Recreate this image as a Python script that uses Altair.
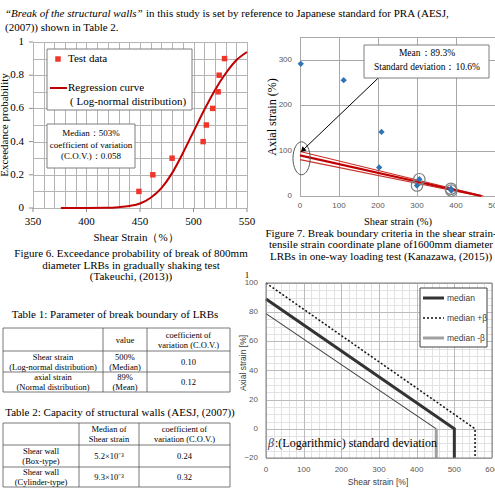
import altair as alt
import pandas as pd

W, H = 495, 492
SERIF = "Liberation Serif"
SANS = "Liberation Sans"

# ---------------- text content ----------------
intro_italic = "\u201cBreak of the structural walls\u201d"
intro_rest = "in this study is set by reference to Japanese standard for PRA (AESJ,"
intro_line2 = "(2007)) shown in Table 2."

fig6_caption = ["Figure 6. Exceedance probability of break of 800mm",
                "diameter LRBs in gradually shaking test",
                "(Takeuchi, (2013))"]
fig7_caption = ["Figure 7. Break boundary criteria in the shear strain-",
                "tensile strain coordinate plane of1600mm diameter",
                "LRBs in one-way loading test (Kanazawa, (2015))"]

table1_title = "Table 1: Parameter of break boundary of LRBs"
table1_cells = [["", "value", "coefficient of\nvariation (C.O.V.)"],
                ["Shear strain\n(Log-normal distribution)", "500%\n(Median)", "0.10"],
                ["axial strain\n(Normal distribution)", "89%\n(Mean)", "0.12"]]
table2_title = "Table 2: Capacity of structural walls (AESJ, (2007))"
table2_cells = [["", "Median of\nShear strain", "coefficient of\nvariation (C.O.V.)"],
                ["Shear wall\n(Box-type)", "5.2\u00d710\u207b\u00b3", "0.24"],
                ["Shear wall\n(Cylinder-type)", "9.3\u00d710\u207b\u00b3", "0.32"]]

# ---------------- Figure 6 data ----------------
fig6_test_shear = [449, 462, 480, 509, 512, 518, 523, 524, 529]
fig6_test_prob = [0.1, 0.2, 0.3, 0.4, 0.5, 0.6, 0.7, 0.8, 0.9]
fig6_curve_shear = [376, 400, 420, 430, 440, 450, 460, 470, 480, 490, 500, 510, 520, 530, 540, 550]
fig6_curve_prob = [0.0, 0.0, 0.001, 0.005, 0.012, 0.027, 0.062, 0.12, 0.21, 0.33, 0.46, 0.59,
                   0.71, 0.81, 0.89, 0.94]
fig6_x_domain = [350, 550]
fig6_y_domain = [0, 1]
fig6_x_ticks = [350, 400, 450, 500, 550]
fig6_y_ticks = [0, 0.2, 0.4, 0.6, 0.8, 1.0]
fig6_grid_x = list(range(350, 551, 10))
fig6_grid_y = [i / 10 for i in range(11)]

# ---------------- Figure 7 data ----------------
fig7_shear = [2, 112, 209, 203, 306, 300, 387, 388]
fig7_axial = [291, 255, 141, 63, 37, 23, 16, 12]
fig7_circled = [0, 0, 0, 0, 1, 1, 1, 1]
fig7_line_id = ["upper", "upper", "mean", "mean", "lower", "lower"]
fig7_line_shear = [0, 470, 0, 465, 0, 460]
fig7_line_axial = [98, 0, 89.3, 0, 80, 0]
fig7_x_domain = [0, 500]
fig7_y_domain = [0, 350]
fig7_x_ticks = [0, 100, 200, 300, 400, 500]
fig7_y_ticks = [0, 100, 200, 300]
fig7_grid_y = [0, 100, 200, 300, 350]
fig7_ellipse = [4, 83]
fig7_arrow = [201, 260, 8.5, 102]

# ---------------- Figure 8 data ----------------
fig8_line_id = ["median"] * 3 + ["plus"] * 3 + ["minus"] * 2 + ["minus_v"] * 2
fig8_shear = [0, 500, 500, 0, 555, 555, 0, 452, 452, 452]
fig8_axial = [89, 0, -20, 100, 0, -20, 79, 0, 0, -20]
fig8_x_domain = [0, 600]
fig8_y_domain = [-20, 100]
fig8_x_ticks = [0, 100, 200, 300, 400, 500, 600]
fig8_y_ticks = [-20, 0, 20, 40, 60, 80, 100]
fig8_minor_x = list(range(0, 601, 20))
fig8_minor_y = list(range(-20, 101, 5))
fig8_legend = ["median", "median +\u03b2", "median -\u03b2"]

# ---------------- panel geometry (pixel ranges) ----------------
P6_X, P6_Y = [33, 247], [208, 42]
P7_X, P7_Y = [300, 495], [196, 37]
P8_X, P8_Y = [266, 492], [458, 283]

ONE = pd.DataFrame({"k": [0]})


# ---------------- helpers ----------------
def text_layer(lines, xs, ys, size, font=SERIF, color="black", align="center",
               style="normal", angle=0):
    df = pd.DataFrame({"t": lines, "px": xs, "py": ys, "i": list(range(len(lines)))})
    return alt.Chart(df).mark_text(font=font, fontSize=size, color=color, align=align,
                                   baseline="middle", fontStyle=style, fontWeight="normal",
                                   angle=angle).encode(
        text="t:N",
        detail="i:N",
        x=alt.X("px:Q", scale=None, axis=None),
        y=alt.Y("py:Q", scale=None, axis=None))


def box(x0, x1, y0, y1, stroke="#7f7f7f", width=1):
    return alt.Chart(ONE).mark_rect(fill="white", stroke=stroke, strokeWidth=width).encode(
        x=alt.value(x0), x2=alt.value(x1), y=alt.value(y0), y2=alt.value(y1))


def segs(x0s, x1s, y0s, y1s, color, width=1, dash=None):
    df = pd.DataFrame({"a": x0s, "b": x1s, "c": y0s, "d": y1s})
    kw = dict(color=color, strokeWidth=width)
    if dash:
        kw["strokeDash"] = dash
    return alt.Chart(df).mark_rule(**kw).encode(
        x=alt.X("a:Q", scale=None, axis=None), x2="b:Q",
        y=alt.Y("c:Q", scale=None, axis=None), y2="d:Q")


def table_layers(cells, cols, rows, size, spacing):
    lines, xs, ys = [], [], []
    for r, row in enumerate(cells):
        cy = (rows[r] + rows[r + 1]) / 2
        for c, cell in enumerate(row):
            if not cell:
                continue
            cx = (cols[c] + cols[c + 1]) / 2
            parts = cell.split("\n")
            for k, p in enumerate(parts):
                lines.append(p)
                xs.append(cx)
                ys.append(cy + (k - (len(parts) - 1) / 2) * spacing)
    hx0 = [cols[0]] * len(rows)
    hx1 = [cols[-1]] * len(rows)
    vy0 = [rows[0]] * len(cols)
    vy1 = [rows[-1]] * len(cols)
    grid = segs(hx0 + cols, hx1 + cols, rows + vy0, rows + vy1, "#555555", 0.8)
    return [grid, text_layer(lines, xs, ys, size)]


def lin(v, dom, rng):
    return rng[0] + (v - dom[0]) * (rng[1] - rng[0]) / (dom[1] - dom[0])


def panel_grid(xvals, yvals, xdom, ydom, xr, yr, color, width=1):
    """Grid lines of a panel, mapped linearly from the panel's domain to its pixel range."""
    x0s, x1s, y0s, y1s = [], [], [], []
    for v in xvals:
        p = round(lin(v, xdom, xr)) + 0.5
        x0s.append(p); x1s.append(p); y0s.append(yr[0]); y1s.append(yr[1])
    for v in yvals:
        p = round(lin(v, ydom, yr)) + 0.5
        x0s.append(xr[0]); x1s.append(xr[1]); y0s.append(p); y1s.append(p)
    return segs(x0s, x1s, y0s, y1s, color, width)


def tick_labels(vals, channel, xs, ys, base, font, size, color, offset, fmt="~g"):
    """Axis tick labels placed through the panel scales."""
    df = pd.DataFrame({"v": vals, "b": base})
    if channel == "x":
        return alt.Chart(df).mark_text(font=font, fontSize=size, color=color, align="center",
                                       baseline="middle", dy=offset).encode(
            x=alt.X("v:Q", scale=xs, axis=None), y=alt.Y("b:Q", scale=ys, axis=None),
            text=alt.Text("v:Q", format=fmt))
    return alt.Chart(df).mark_text(font=font, fontSize=size, color=color, align="right",
                                   baseline="middle", dx=-offset).encode(
        y=alt.Y("v:Q", scale=ys, axis=None), x=alt.X("b:Q", scale=xs, axis=None),
        text=alt.Text("v:Q", format=fmt))


def tick_marks(vals, channel, xs, ys, base, color):
    df = pd.DataFrame({"v": vals, "b": base})
    path = "M0,0L0,1" if channel == "x" else "M0,0L-1,0"
    mk = alt.Chart(df).mark_point(shape=path, size=64, filled=False, color=color,
                                  strokeWidth=1, opacity=1)
    if channel == "x":
        return mk.encode(x=alt.X("v:Q", scale=xs, axis=None), y=alt.Y("b:Q", scale=ys, axis=None))
    return mk.encode(y=alt.Y("v:Q", scale=ys, axis=None), x=alt.X("b:Q", scale=xs, axis=None))


# ---------------- Figure 6 ----------------
xs6 = alt.Scale(domain=fig6_x_domain, range=P6_X, nice=False, zero=False)
ys6 = alt.Scale(domain=fig6_y_domain, range=P6_Y, nice=False, zero=False)

curve6 = alt.Chart(pd.DataFrame({"s": fig6_curve_shear, "p": fig6_curve_prob})).mark_line(
    color="#c00000", strokeWidth=2, interpolate="monotone").encode(
    x=alt.X("s:Q", scale=xs6, axis=None), y=alt.Y("p:Q", scale=ys6, axis=None))
pts6 = alt.Chart(pd.DataFrame({"s": fig6_test_shear, "p": fig6_test_prob})).mark_point(
    shape="square", filled=True, size=30, color="#f0362b", opacity=1).encode(
    x=alt.X("s:Q", scale=xs6, axis=None), y=alt.Y("p:Q", scale=ys6, axis=None))
fig6 = alt.layer(
    tick_marks(fig6_x_ticks, "x", xs6, ys6, fig6_y_domain[0], "#8c8c8c"),
    tick_marks(fig6_y_ticks, "y", xs6, ys6, fig6_x_domain[0], "#8c8c8c"),
    tick_labels(fig6_x_ticks, "x", xs6, ys6, fig6_y_domain[0], SERIF, 11, "black", 14),
    tick_labels(fig6_y_ticks, "y", xs6, ys6, fig6_x_domain[0], SERIF, 11, "black", 9),
    curve6, pts6)

# ---------------- Figure 7 ----------------
xs7 = alt.Scale(domain=fig7_x_domain, range=P7_X, nice=False, zero=False)
ys7 = alt.Scale(domain=fig7_y_domain, range=P7_Y, nice=False, zero=False)

df7l = pd.DataFrame({"id": fig7_line_id, "s": fig7_line_shear, "a": fig7_line_axial})
lines7o = alt.Chart(df7l).transform_filter("datum.id != 'mean'").mark_line(
    color="#c8322a", strokeWidth=1.2).encode(
    x=alt.X("s:Q", scale=xs7, axis=None), y=alt.Y("a:Q", scale=ys7, axis=None), detail="id:N")
lines7m = alt.Chart(df7l).transform_filter("datum.id == 'mean'").mark_line(
    color="#c00000", strokeWidth=2.2).encode(
    x=alt.X("s:Q", scale=xs7, axis=None), y=alt.Y("a:Q", scale=ys7, axis=None))
df7p = pd.DataFrame({"s": fig7_shear, "a": fig7_axial, "c": fig7_circled})
pts7 = alt.Chart(df7p).mark_point(shape="diamond", filled=True, size=40, color="#2e75b6",
                                  opacity=1).encode(
    x=alt.X("s:Q", scale=xs7, axis=None), y=alt.Y("a:Q", scale=ys7, axis=None))
circ7 = alt.Chart(df7p).transform_filter("datum.c == 1").mark_point(
    shape="circle", filled=False, size=130, color="#7f7f7f", strokeWidth=1.2, opacity=1).encode(
    x=alt.X("s:Q", scale=xs7, axis=None), y=alt.Y("a:Q", scale=ys7, axis=None))
ELLIPSE = ("M0,-1C0.287,-1,0.52,-0.552,0.52,0C0.52,0.552,0.287,1,0,1"
           "C-0.287,1,-0.52,0.552,-0.52,0C-0.52,-0.552,-0.287,-1,0,-1Z")
ell7 = alt.Chart(pd.DataFrame({"s": [fig7_ellipse[0]], "a": [fig7_ellipse[1]]})).mark_point(
    shape=ELLIPSE, filled=False, size=1089, color="#595959", strokeWidth=1, opacity=1).encode(
    x=alt.X("s:Q", scale=xs7, axis=None), y=alt.Y("a:Q", scale=ys7, axis=None))
dfa = pd.DataFrame({"x": [fig7_arrow[0]], "y": [fig7_arrow[1]],
                    "x2": [fig7_arrow[2]], "y2": [fig7_arrow[3]]})
arrow7 = alt.Chart(dfa).mark_rule(color="black", strokeWidth=1).encode(
    x=alt.X("x:Q", scale=xs7, axis=None), y=alt.Y("y:Q", scale=ys7, axis=None),
    x2="x2:Q", y2="y2:Q")
head7 = alt.Chart(dfa).mark_point(shape="triangle", filled=True, size=35, color="black",
                                  angle=226, opacity=1).encode(
    x=alt.X("x2:Q", scale=xs7, axis=None), y=alt.Y("y2:Q", scale=ys7, axis=None))
fig7 = alt.layer(
    tick_labels(fig7_x_ticks, "x", xs7, ys7, fig7_y_domain[0], SANS, 8, "#595959", 10),
    tick_labels(fig7_y_ticks, "y", xs7, ys7, fig7_x_domain[0], SANS, 8, "#595959", 8),
    lines7o, lines7m, circ7, pts7, ell7, arrow7, head7)

# ---------------- Figure 8 ----------------
xs8 = alt.Scale(domain=fig8_x_domain, range=P8_X, nice=False, zero=False)
ys8 = alt.Scale(domain=fig8_y_domain, range=P8_Y, nice=False, zero=False)

df8 = pd.DataFrame({"id": fig8_line_id, "s": fig8_shear, "a": fig8_axial,
                    "o": list(range(len(fig8_shear)))})


def line8(idv, color, width, dash=None):
    kw = dict(color=color, strokeWidth=width)
    if dash:
        kw["strokeDash"] = dash
    return alt.Chart(df8).transform_filter(f"datum.id == '{idv}'").mark_line(**kw).encode(
        x=alt.X("s:Q", scale=xs8, axis=None), y=alt.Y("a:Q", scale=ys8, axis=None),
        order="o:Q")


frame8 = alt.Chart(pd.DataFrame({"x0": [fig8_x_domain[0]], "x1": [fig8_x_domain[1]],
                                 "y0": [fig8_y_domain[0]], "y1": [fig8_y_domain[1]]})).mark_rect(
    filled=False, stroke="#808080", strokeWidth=1).encode(
    x=alt.X("x0:Q", scale=xs8, axis=None), x2="x1:Q",
    y=alt.Y("y0:Q", scale=ys8, axis=None), y2="y1:Q")
fig8 = alt.layer(
    tick_labels(fig8_x_ticks, "x", xs8, ys8, fig8_y_domain[0], SANS, 8, "#595959", 12),
    tick_labels(fig8_y_ticks, "y", xs8, ys8, fig8_x_domain[0], SANS, 8, "#595959", 8),
    line8("minus", "#3f3f3f", 1.1), line8("minus_v", "#a0a0a0", 3),
    line8("plus", "#111111", 1.5, [2, 2]), line8("median", "#333333", 3),
    frame8)

# ---------------- grids (drawn first, underneath everything) ----------------
grids = [
    panel_grid(fig6_grid_x, fig6_grid_y, fig6_x_domain, fig6_y_domain, P6_X, P6_Y, "#b4b4b4"),
    panel_grid(fig7_x_ticks, fig7_grid_y, fig7_x_domain, fig7_y_domain, P7_X, P7_Y, "#a8a8a8"),
    panel_grid(fig8_minor_x, fig8_minor_y, fig8_x_domain, fig8_y_domain, P8_X, P8_Y, "#e2e2e2"),
    panel_grid(fig8_x_ticks, fig8_y_ticks, fig8_x_domain, fig8_y_domain, P8_X, P8_Y, "#bcbcbc"),
]

# ---------------- annotations / text ----------------
ann = [
    # intro paragraph
    text_layer([intro_italic], [5], [14], 11, align="left", style="italic"),
    text_layer([intro_rest, intro_line2], [146, 5], [14, 28], 11, align="left"),
    # figure 6 texts
    text_layer(["Exceedance probability"], [5], [125], 11, angle=270),
    text_layer(["Shear Strain\uff08%\uff09"], [136], [238], 11),
    text_layer(fig6_caption, [131, 131, 131], [254, 265.5, 277], 11),
    text_layer(["1"], [247], [275], 9),
    box(47, 192, 49, 110),
    alt.Chart(ONE).mark_point(shape="square", filled=True, size=30, color="#f0362b",
                              opacity=1).encode(x=alt.value(58), y=alt.value(59)),
    segs([50], [67], [88], [88], "#c00000", 2),
    text_layer(["Test data", "Regression curve", "( Log-normal distribution)"],
               [68, 68, 70], [59, 88, 102], 11, align="left"),
    box(47, 135, 124, 168),
    text_layer(["Median\uff1a503%", "coefficient of variation", "(C.O.V.)\uff1a0.058"],
               [91, 91, 91], [133, 144.5, 156], 9),
    # figure 7 texts
    text_layer(["Axial strain (%)"], [272], [117], 12, angle=270),
    text_layer(["Shear strain (%)"], [398], [222], 10.5),
    text_layer(fig7_caption, [381, 381, 381], [233.5, 245, 256.5], 11),
    box(364, 489, 45, 78),
    text_layer(["Mean\uff1a89.3%", "Standard deviation\uff1a10.6%"], [427, 427], [53, 67], 9.5),
    # tables
    text_layer([table1_title], [115], [315], 11),
    text_layer([table2_title], [120], [413], 11),
    # figure 8 texts
    text_layer(["Shear strain [%]"], [378], [482], 8.5, font=SANS, color="#404040"),
    text_layer(["Axial strain [%]"], [243], [363], 8.5, font=SANS, color="#404040", angle=270),
    text_layer(["\u03b2"], [268], [443], 12, color="#1f3b73", align="left", style="italic"),
    text_layer([":(Logarithmic) standard deviation"], [275], [443], 12, align="left"),
    box(420, 487, 288, 347, stroke="#404040"),
    segs([423], [444], [298], [298], "#333333", 3),
    segs([423], [444], [318], [318], "#111111", 1.5, [2, 2]),
    segs([423], [444], [338], [338], "#a0a0a0", 3),
    text_layer(fig8_legend, [447, 447, 447], [298, 318, 338], 8.5, font=SANS,
               color="#404040", align="left"),
]
ann += table_layers(table1_cells, [3, 103, 147, 230], [328, 351, 372, 392], 8.5, 10)
ann += table_layers(table2_cells, [3, 79, 139, 230], [423, 445, 467, 487], 8.5, 10)

chart = alt.layer(*grids, fig6, fig7, fig8, *ann).resolve_scale(
    x="independent", y="independent").properties(
    width=W, height=H, autosize=alt.AutoSizeParams(type="none"), padding=0,
    background="white").configure_view(stroke=None)

chart.save("out.html", embed_options={"renderer": "svg", "actions": False})
